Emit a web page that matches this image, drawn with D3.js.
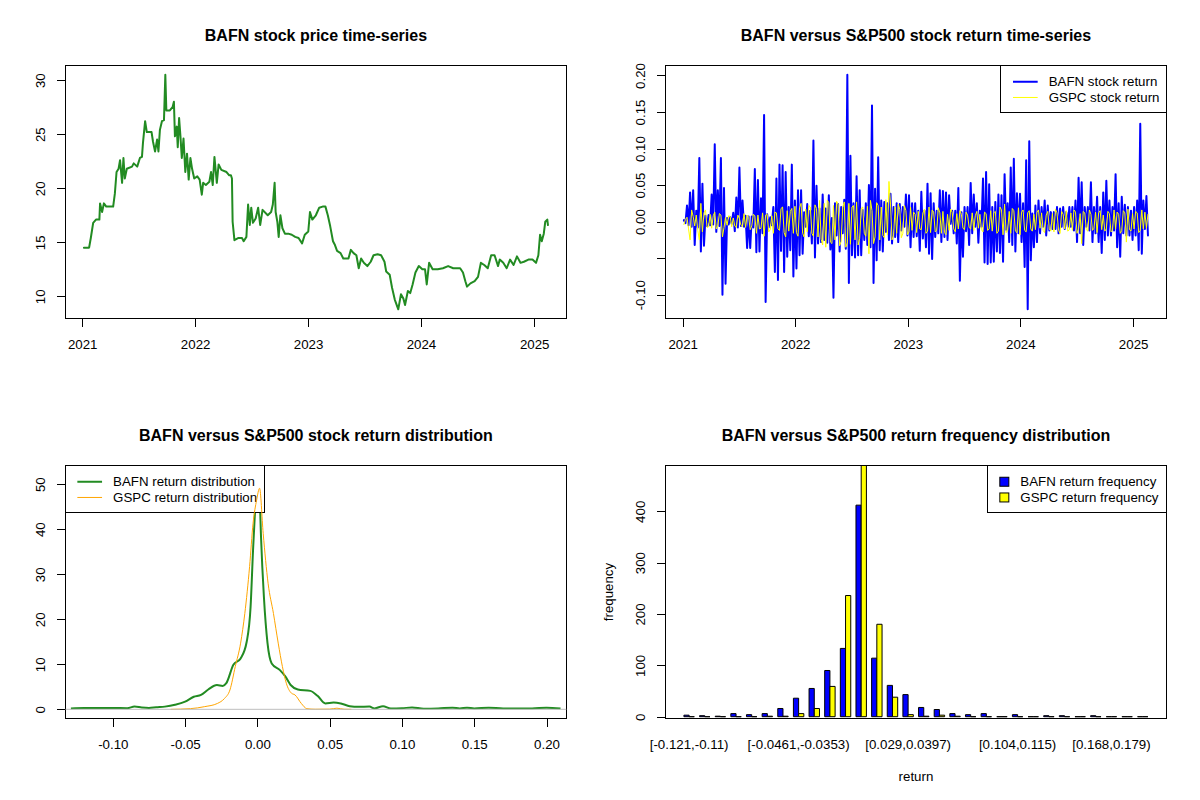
<!DOCTYPE html>
<html>
<head>
<meta charset="utf-8">
<script src="https://cdn.jsdelivr.net/npm/d3@7"></script>
<style>
  body { margin: 0; background: #fff; }
  svg { font-family: "Liberation Sans", Arial, Helvetica, sans-serif; }
</style>
</head>
<body>
<svg id="chart" width="1200" height="800"></svg>
<script>
// ---- price series (decimal year, close) ----
var priceYear = [
  2021.015, 2021.061, 2021.076, 2021.085, 2021.097, 2021.122, 2021.152, 2021.158, 2021.176, 2021.192,
  2021.213, 2021.274, 2021.289, 2021.304, 2021.322, 2021.335, 2021.353, 2021.365, 2021.377, 2021.395,
  2021.441, 2021.456, 2021.487, 2021.511, 2021.529, 2021.538, 2021.557, 2021.572, 2021.593, 2021.614,
  2021.627, 2021.645, 2021.663, 2021.675, 2021.688, 2021.706, 2021.724, 2021.736, 2021.745, 2021.776,
  2021.800, 2021.812, 2021.821, 2021.837, 2021.846, 2021.858, 2021.870, 2021.882, 2021.897, 2021.913,
  2021.928, 2021.943, 2021.958, 2021.973, 2021.992, 2022.019, 2022.040, 2022.059, 2022.071, 2022.095,
  2022.126, 2022.141, 2022.156, 2022.171, 2022.192, 2022.208, 2022.232, 2022.278, 2022.302, 2022.317,
  2022.326, 2022.332, 2022.348, 2022.384, 2022.415, 2022.430, 2022.454, 2022.469, 2022.484, 2022.497,
  2022.512, 2022.536, 2022.558, 2022.576, 2022.597, 2022.643, 2022.673, 2022.688, 2022.704, 2022.713,
  2022.728, 2022.740, 2022.755, 2022.773, 2022.795, 2022.825, 2022.856, 2022.886, 2022.916, 2022.947,
  2022.971, 2023.002, 2023.017, 2023.038, 2023.069, 2023.099, 2023.129, 2023.154, 2023.175, 2023.196,
  2023.221, 2023.236, 2023.257, 2023.288, 2023.312, 2023.358, 2023.379, 2023.403, 2023.428, 2023.449,
  2023.470, 2023.494, 2023.525, 2023.555, 2023.580, 2023.616, 2023.647, 2023.677, 2023.692, 2023.723,
  2023.744, 2023.768, 2023.799, 2023.823, 2023.844, 2023.859, 2023.884, 2023.905, 2023.926, 2023.951,
  2023.981, 2024.012, 2024.036, 2024.051, 2024.072, 2024.103, 2024.148, 2024.194, 2024.240, 2024.285,
  2024.346, 2024.371, 2024.392, 2024.407, 2024.437, 2024.474, 2024.504, 2024.529, 2024.559, 2024.590,
  2024.620, 2024.650, 2024.681, 2024.696, 2024.727, 2024.757, 2024.787, 2024.818, 2024.848, 2024.879,
  2024.909, 2024.949, 2024.985, 2025.016, 2025.037, 2025.052, 2025.067, 2025.085, 2025.098, 2025.116,
  2025.122
];
var priceValue = [
  14.5, 14.5, 15.4, 16.0, 16.8, 17.1, 17.1, 18.6, 17.8, 18.6,
  18.3, 18.3, 19.5, 21.5, 21.8, 22.6, 20.5, 22.8, 20.9, 21.8,
  22.0, 22.3, 22.0, 22.8, 22.9, 24.2, 26.2, 25.2, 25.2, 25.2,
  24.3, 23.4, 24.5, 23.4, 25.4, 26.2, 26.3, 30.5, 27.2, 27.2,
  27.5, 28.0, 24.8, 25.7, 23.8, 26.5, 24.8, 22.8, 24.6, 21.5,
  23.2, 20.8, 22.8, 21.8, 20.9, 21.1, 20.8, 19.4, 20.5, 20.3,
  20.6, 21.5, 20.3, 22.9, 20.5, 22.2, 21.7, 21.5, 21.2, 21.2,
  20.9, 16.9, 15.2, 15.4, 15.4, 15.1, 15.5, 18.5, 16.6, 18.2,
  16.8, 17.2, 18.2, 16.6, 18.0, 17.5, 17.8, 18.5, 20.5, 17.8,
  16.9, 15.5, 17.5, 16.3, 15.8, 15.8, 15.7, 15.5, 15.4, 14.9,
  15.7, 16.0, 17.8, 17.1, 17.5, 18.2, 18.3, 18.3, 17.5, 16.5,
  15.1, 14.8, 14.2, 14.0, 13.5, 13.5, 14.3, 14.0, 13.8, 12.6,
  13.5, 13.1, 12.8, 13.2, 13.8, 13.9, 13.8, 13.2, 12.3, 12.0,
  10.8, 9.7, 8.8, 10.2, 9.8, 9.2, 10.5, 10.3, 11.1, 12.2,
  12.8, 12.5, 12.5, 11.1, 13.1, 12.5, 12.5, 12.6, 12.8, 12.6,
  12.6, 12.2, 11.4, 10.9, 11.2, 11.4, 11.8, 13.1, 12.9, 12.6,
  13.8, 13.8, 12.8, 13.4, 13.1, 12.6, 13.4, 12.9, 13.7, 13.1,
  13.2, 13.4, 13.4, 13.1, 13.8, 15.7, 15.1, 15.8, 16.9, 17.1,
  16.6
];

// ---- returns, one value every 5 days from 2021-01-05, in percent ----
var returnStart = "2021-01-05";
var returnStepDays = 5;
var bafnReturnPct = [
  0.2,-0.2, 2.2,-0.5, 4.0,-0.7, 4.3,-3.2, 1.5,-0.8, 8.7,-4.1, 5.2,-3.3, 0.8,-0.6, 0.9,-0.5, 3.7,-0.4,
  10.6,-1.4, 4.3,-0.6, 8.7,-10.0, 4.6,-8.5, 0.5,-0.4, 0.6,-0.3, 1.2,-1.3, 3.3,-0.8, 7.4,-0.6, 2.9,-0.7,
  0.8,-3.6, 0.7,-3.6, 0.7,-0.8, 7.2,-4.2, 5.7,-4.1, 3.2,-1.6, 14.6,-11.0, 1.0,-0.8, 0.6,-0.5, 2.0,-6.9,
  5.9,-8.0, 7.8,-4.0, 7.7,-6.9, 6.8,-4.8, 2.0,-3.9, 7.8,-7.5, 2.9,-6.4, 4.3,-4.6, 4.3,-4.4, 1.3,-0.7,
  2.4,-2.0, 1.5,-3.0, 11.1,-4.9, 4.9,-3.0, 1.8,-2.8, 3.7,-2.5, 1.8,-2.9, 3.6,-3.8, 0.5,-10.4, 2.5,-1.9,
  2.4,-4.1, 2.0,-1.6, 3.0,-3.7, 20.1,-8.4, 9.0,-4.6, 2.5,-4.9, 6.2,-4.6, 4.3,-4.6, 1.6,-2.5, 2.5,-3.2,
  5.0,-3.5, 15.9,-8.4, 4.5,-5.3, 8.8,-3.9, 2.9,-4.1, 2.7,-1.4, 2.5,-2.5, 3.8,-3.0, 2.0,-2.1, 2.5,-2.8,
  2.4,-1.2, 2.0,-0.7, 3.7,-1.9, 3.6,-3.5, 2.5,-2.1, 2.5,-2.0, 1.5,-4.0, 4.1,-2.3, 1.5,-3.5, 5.2,-4.4,
  3.9,-5.1, 2.5,-2.1, 1.5,-1.6, 4.3,-2.8, 4.2,-2.1, 4.0,-2.5, 3.6,-0.3, 1.5,-1.6, 1.5,-3.0, 4.6,-8.1,
  1.3,-4.8, 2.0,-1.3, 2.0,-3.2, 5.3,-1.6, 3.7,-0.7, 2.5,-2.9, 1.5,-0.7, 5.9,-5.6, 6.8,-5.8, 5.1,-5.6,
  2.0,-5.5, 2.7,-4.1, 3.7,-4.3, 3.6,-5.5, 6.5,-1.1, 2.5,-2.8, 7.4,-3.2, 8.6,-4.1, 3.9,-1.6, 3.8,-2.8,
  2.5,-6.2, 8.4,-12.0, 11.0,-5.3, 1.1,-3.5, 2.2,-2.8, 2.9,-1.6, 2.0,-0.7, 2.9,-1.9, 2.2,-1.2, 1.3,-1.0,
  1.3,-1.0, 2.0,-1.6, 1.8,-0.7, 2.0,-1.0, 1.3,-0.7, 2.0,-0.7, 2.0,-1.2, 2.9,-2.8, 6.0,-1.6, 5.4,-3.2,
  2.0,-0.7, 2.0,-1.2, 5.4,-2.8, 2.0,-1.6, 3.4,-2.8, 2.0,-4.3, 4.0,-2.5, 5.6,-1.9, 2.9,-1.9, 2.0,-1.2,
  6.5,-3.5, 2.5,-4.8, 3.4,-1.6, 2.3,-1.9, 2.0,-1.9, 1.5,-2.5, 2.0,-1.9, 2.9,-3.9, 13.4,-4.4, 2.9,-1.0,
  3.5,-1.9
];
var gspcReturnPct = [
  -0.4,0.3, 0.6,-1.0, -2.5,1.6, 0.7,-0.6, 0.9,-1.2, -2.5,2.5, -1.4,1.2, 1.6,-0.8, -0.7,1.0, -0.9,0.8,
  1.3,-1.0, -0.6,1.1, 0.9,-2.1, -0.8,0.6, -0.5,0.8, 0.7,-0.7, 0.5,-0.6, -0.8,0.9, 0.4,-0.5, -0.7,1.1,
  -0.8,0.9, 0.6,-1.1, -0.6,1.0, 0.8,-1.6, 0.9,-1.0, -0.9,1.2, -2.0,0.9, 1.0,-1.4, -1.1,0.8, -1.6,1.3,
  1.2,-1.0, -1.2,1.8, 2.0,-1.5, -2.1,1.5, -1.3,1.4, 1.8,-1.6, 2.1,-1.5, -2.0,1.9, 2.5,-1.6, -2.1,1.7,
  -1.4,2.2, 2.0,-1.6, -2.0,2.3, 1.8,-2.1, 2.9,-2.4, -3.2,2.5, -3.5,2.9, 2.6,-2.8, -3.0,2.2, -2.5,2.8,
  2.4,-3.3, -2.7,1.9, 2.7,-3.5, -2.9,2.5, -3.1,2.0, 2.2,-2.5, 2.7,-3.2, -2.3,1.8, 2.0,-1.6, -2.0,2.1,
  -4.4,2.9, 1.5,-3.0, -2.1,2.6, 2.2,-2.5, 2.0,-1.9, -2.2,3.0, -1.8,5.5, 2.4,-2.5, -1.9,2.0, -1.6,2.4,
  1.7,-2.2, -1.6,2.2, 1.5,-1.8, -1.4,2.0, -1.2,1.3, 1.0,-1.5, 1.4,-1.0, -1.1,1.2, 1.7,-1.6, -1.3,2.0,
  -1.5,1.6, 1.3,-1.4, -1.2,1.9, 1.2,-1.6, 1.4,-1.5, -1.8,1.0, -1.2,1.7, 1.3,-1.0, -1.4,1.1, -1.0,1.5,
  1.0,-0.9, -1.1,1.3, 0.9,-0.8, -1.0,1.2, -1.2,0.8, 1.4,-0.9, 1.0,-1.1, -1.4,1.3, 1.1,-1.2, -1.0,1.5,
  -1.3,1.2, 1.4,-1.6, -1.3,2.0, 1.6,-1.8, 2.4,-1.5, -1.2,1.4, -1.6,1.8, 1.5,-1.3, -1.5,1.9, -1.8,1.3,
  1.6,-1.2, -1.4,1.2, 1.5,-1.0, -1.3,1.0, -1.1,1.3, 1.6,-0.9, 1.2,-1.2, -1.5,0.9, 1.4,-1.0, -1.3,1.1,
  -1.4,1.7, 1.2,-1.2, -1.6,1.4, 1.0,-1.0, 1.5,-1.3, -1.1,1.2, -1.2,1.6, 1.3,-1.6, -1.0,1.1, -3.0,1.4,
  1.2,-1.1, -1.3,1.6, 1.0,-1.2, -0.9,1.3, -1.5,1.2, 1.5,-1.1, 0.9,-1.3, -1.0,1.4, 1.1,-1.4, -1.2,1.6,
  -1.0,1.3, 1.0,-1.6, -1.2,1.5, 1.2,-2.8, 1.7,-1.1, -1.3,1.1, -1.0,1.4, 1.2,-1.5, -1.2,1.6, -1.0,1.3,
  -0.9,1.0
];

// ---- kernel densities ----
var bafnDensityX = [
  -0.129, -0.12, -0.11, -0.10, -0.09, -0.085, -0.08, -0.075, -0.07, -0.064,
  -0.057, -0.05, -0.044, -0.039, -0.034, -0.028, -0.024, -0.0215, -0.0166, -0.0116,
  -0.0074, -0.0047, -0.003, -0.0017, -0.0005, 0.0005, 0.0015, 0.0025, 0.0045, 0.007,
  0.0099, 0.0156, 0.0193, 0.023, 0.028, 0.0366, 0.0416, 0.047, 0.0527, 0.0577,
  0.0639, 0.07, 0.0775, 0.081, 0.0869, 0.0923, 0.10, 0.107, 0.115, 0.125,
  0.135, 0.14, 0.145, 0.15, 0.16, 0.17, 0.18, 0.19, 0.20, 0.2097
];
var bafnDensity = [
  0.2, 0.3, 0.3, 0.3, 0.25, 0.6, 0.4, 0.3, 0.45, 0.6,
  1.0, 1.7, 2.8, 3.2, 4.4, 5.4, 5.2, 5.8, 9.9, 11.3,
  15.0, 22.8, 35.4, 43.6, 50.5, 52.1, 48.0, 38.4, 25.0, 14.7,
  10.2, 8.7, 7.3, 5.4, 4.4, 4.1, 3.0, 1.3, 1.5, 1.3,
  0.7, 0.55, 0.6, 0.2, 0.7, 0.2, 0.25, 0.4, 0.15, 0.2,
  0.35, 0.2, 0.35, 0.2, 0.35, 0.2, 0.2, 0.2, 0.35, 0.2
];
var gspcDensityX = [
  -0.06, -0.0463, -0.0364, -0.0277, -0.0228, -0.019, -0.0153, -0.0116, -0.0087, -0.0054,
  -0.003, -0.0005, 0.0015, 0.004, 0.0074, 0.0111, 0.0144, 0.0173, 0.02, 0.0235,
  0.026, 0.0304, 0.0342, 0.04, 0.05, 0.055, 0.06, 0.065
];
var gspcDensity = [
  0.0, 0.15, 0.6, 1.3, 2.4, 4.3, 9.5, 14.7, 21.3, 31.7,
  41.3, 46.5, 49.1, 39.1, 28.0, 21.3, 14.7, 9.5, 5.8, 3.6,
  3.2, 1.3, 0.15, 0.02, 0.05, 0.25, 0.02, 0.0
];

// ---- histogram counts (30 bins) ----
var bafnFreq = [3, 2, 1, 6, 4, 6, 16, 36, 55, 90, 133, 412, 114, 61, 43, 18, 14, 6, 4, 6, 0, 4, 0, 2, 2, 0, 2, 0, 0, 0];
var gspcFreq = [0, 0, 0, 0, 0, 1, 1, 6, 16, 59, 236, 494, 180, 38, 4, 1, 3, 1, 0, 0, 0, 0, 0, 0, 0, 0, 0, 0, 0, 0];
var histLabelBins = [0, 7, 14, 21, 27];
var histLabels = ["[-0.121,-0.11)", "[-0.0461,-0.0353)", "[0.029,0.0397)", "[0.104,0.115)", "[0.168,0.179)"];

// ---- ticks ----
var yearTicks = ["2021-01-01", "2022-01-01", "2023-01-01", "2024-01-01", "2025-01-01"];
var yearLabels = ["2021", "2022", "2023", "2024", "2025"];
var priceTicks = [10, 15, 20, 25, 30];
var priceLabels = ["10", "15", "20", "25", "30"];
var returnTicks = [-0.10, -0.05, 0, 0.05, 0.10, 0.15, 0.20];
var returnLabels = ["-0.10", "", "0.00", "0.05", "0.10", "0.15", "0.20"];
var densityXTicks = [-0.10, -0.05, 0, 0.05, 0.10, 0.15, 0.20];
var densityXLabels = ["-0.10", "-0.05", "0.00", "0.05", "0.10", "0.15", "0.20"];
var densityYTicks = [0, 10, 20, 30, 40, 50];
var densityYLabels = ["0", "10", "20", "30", "40", "50"];
var freqTicks = [0, 100, 200, 300, 400];
var freqLabels = ["0", "100", "200", "300", "400"];

// ------------------------------------------------------------------
var svg = d3.select("#chart");
var LINE = 15.94;          // one margin line of the 2x2 layout
var AXIS_FONT = 13.3;
var clipCount = 0;

function panel(col, row) {
    var x0 = col * 600, y0 = row * 400;
    var p = {
        x0: x0, y0: y0,
        left: x0 + 4.1 * LINE, right: x0 + 600 - 2.1 * LINE,
        top: y0 + 4.1 * LINE, bottom: y0 + 400 - 5.1 * LINE
    };
    p.w = p.right - p.left;
    p.h = p.bottom - p.top;
    var id = "clip" + (clipCount++);
    svg.append("clipPath").attr("id", id).append("rect")
        .attr("x", p.left).attr("y", p.top).attr("width", p.w).attr("height", p.h);
    p.clip = "url(#" + id + ")";
    return p;
}

// R pads the data range by 4% on each side
function rExtend(ext) {
    var d = (ext[1] - ext[0]) * 0.04;
    return [ext[0] - d, ext[1] + d];
}
function rExtendTime(ext) {
    var a = +ext[0], b = +ext[1], d = (b - a) * 0.04;
    return [new Date(a - d), new Date(b + d)];
}
function fromDecimalYear(t) {
    var y = Math.floor(t);
    var s = Date.UTC(y, 0, 1), e = Date.UTC(y + 1, 0, 1);
    return new Date(s + (t - y) * (e - s));
}

function title(p, text) {
    svg.append("text")
        .attr("x", (p.left + p.right) / 2).attr("y", p.y0 + 40.7)
        .attr("text-anchor", "middle").attr("font-weight", "bold").attr("font-size", 16)
        .text(text);
}

function box(p) {
    svg.append("rect")
        .attr("x", p.left).attr("y", p.top).attr("width", p.w).attr("height", p.h)
        .attr("fill", "none").attr("stroke", "#000").attr("stroke-width", 1)
        .attr("shape-rendering", "crispEdges");
}

function bottomAxis(p, scale, ticks, labels) {
    var g = svg.append("g")
        .attr("transform", "translate(0," + p.bottom + ")")
        .call(d3.axisBottom(scale).tickValues(ticks)
            .tickFormat(function (d, i) { return labels[i]; })
            .tickSize(8).tickSizeOuter(0));
    g.select(".domain").remove();
    g.attr("font-size", AXIS_FONT).attr("font-family", null);
    g.selectAll(".tick line").attr("stroke", "#000").attr("shape-rendering", "crispEdges");
    g.selectAll(".tick text").attr("y", 30).attr("dy", null).attr("fill", "#000");
}

function leftAxis(p, scale, ticks, labels) {
    var g = svg.append("g")
        .attr("transform", "translate(" + p.left + ",0)")
        .call(d3.axisLeft(scale).tickValues(ticks)
            .tickFormat(function (d, i) { return labels[i]; })
            .tickSize(8).tickSizeOuter(0));
    g.select(".domain").remove();
    g.attr("font-size", AXIS_FONT).attr("font-family", null);
    g.selectAll(".tick line").attr("stroke", "#000").attr("shape-rendering", "crispEdges");
    g.selectAll(".tick text")
        .attr("transform", "rotate(-90)")
        .attr("x", 0).attr("y", -20).attr("dy", null)
        .attr("text-anchor", "middle").attr("fill", "#000");
}

// legend with line keys (lty = 1)
function lineLegend(p, side, items) {
    var g = svg.append("g").attr("font-size", AXIS_FONT);
    var bg = g.append("rect");
    var texts = items.map(function (it) { return g.append("text").text(it.label); });
    var maxW = d3.max(texts, function (t) { return t.node().getComputedTextLength(); });
    var w = 47.7 + maxW + 7, h = 47.4;
    var left = side === "right" ? p.right - w : p.left;
    bg.attr("x", left).attr("y", p.top).attr("width", w).attr("height", h)
        .attr("fill", "#fff").attr("stroke", "#000").attr("shape-rendering", "crispEdges");
    items.forEach(function (it, i) {
        var cy = p.top + 16.4 + i * 15.7;
        g.append("line").attr("x1", left + 12).attr("x2", left + 36.7)
            .attr("y1", cy).attr("y2", cy)
            .attr("stroke", it.color).attr("stroke-width", it.width);
        texts[i].attr("x", left + 47.7).attr("y", cy + 4.7);
    });
}

// legend with filled boxes
function fillLegend(p, items) {
    var g = svg.append("g").attr("font-size", AXIS_FONT);
    var bg = g.append("rect");
    var texts = items.map(function (it) { return g.append("text").text(it.label); });
    var maxW = d3.max(texts, function (t) { return t.node().getComputedTextLength(); });
    var w = 33 + maxW + 8, h = 47.4;
    var left = p.right - w;
    bg.attr("x", left).attr("y", p.top).attr("width", w).attr("height", h)
        .attr("fill", "#fff").attr("stroke", "#000").attr("shape-rendering", "crispEdges");
    items.forEach(function (it, i) {
        var cy = p.top + 16.4 + i * 15.7;
        g.append("rect").attr("x", left + 12.5).attr("y", cy - 4.5)
            .attr("width", 9).attr("height", 9)
            .attr("fill", it.color).attr("stroke", "#000");
        texts[i].attr("x", left + 33).attr("y", cy + 4.7);
    });
}

function drawLine(p, data, x, y, color, width) {
    svg.append("path")
        .datum(data)
        .attr("clip-path", p.clip)
        .attr("fill", "none").attr("stroke", color).attr("stroke-width", width)
        .attr("stroke-linejoin", "round").attr("stroke-linecap", "round")
        .attr("d", d3.line().x(function (d) { return x(d[0]); }).y(function (d) { return y(d[1]); }));
}

var yearTickDates = yearTicks.map(function (s) { return new Date(s + "T00:00:00Z"); });

// ---------- panel 1: price ----------
(function () {
    var p = panel(0, 0);
    var data = priceYear.map(function (t, i) { return [fromDecimalYear(t), priceValue[i]]; });
    var x = d3.scaleUtc().domain(rExtendTime(d3.extent(data, function (d) { return d[0]; })))
        .range([p.left, p.right]);
    var y = d3.scaleLinear().domain(rExtend(d3.extent(priceValue))).range([p.bottom, p.top]);
    title(p, "BAFN stock price time-series");
    drawLine(p, data, x, y, "#228B22", 2);
    box(p);
    bottomAxis(p, x, yearTickDates, yearLabels);
    leftAxis(p, y, priceTicks, priceLabels);
})();

// ---------- panel 2: returns ----------
var returnDates = bafnReturnPct.map(function (v, i) {
    return d3.utcDay.offset(new Date(returnStart + "T00:00:00Z"), i * returnStepDays);
});
var bafnReturn = bafnReturnPct.map(function (v) { return v / 100; });
var gspcReturn = gspcReturnPct.map(function (v) { return v / 100; });

(function () {
    var p = panel(1, 0);
    var x = d3.scaleUtc().domain(rExtendTime(d3.extent(returnDates))).range([p.left, p.right]);
    var y = d3.scaleLinear().domain(rExtend(d3.extent(bafnReturn.concat(gspcReturn))))
        .range([p.bottom, p.top]);
    title(p, "BAFN versus S&P500 stock return time-series");
    drawLine(p, returnDates.map(function (d, i) { return [d, bafnReturn[i]]; }), x, y, "#0000FF", 2);
    drawLine(p, returnDates.map(function (d, i) { return [d, gspcReturn[i]]; }), x, y, "#FFFF00", 1);
    box(p);
    bottomAxis(p, x, yearTickDates, yearLabels);
    leftAxis(p, y, returnTicks, returnLabels);
    lineLegend(p, "right", [
        { label: "BAFN stock return", color: "#0000FF", width: 2 },
        { label: "GSPC stock return", color: "#FFFF00", width: 1 }
    ]);
})();

// ---------- panel 3: density ----------
(function () {
    var p = panel(0, 1);
    var x = d3.scaleLinear().domain(rExtend(d3.extent(bafnReturn))).range([p.left, p.right]);
    var y = d3.scaleLinear().domain(rExtend([0, d3.max(bafnDensity)])).range([p.bottom, p.top]);
    title(p, "BAFN versus S&P500 stock return distribution");
    var curve = function (xs, ys) { return xs.map(function (v, i) { return [v, ys[i]]; }); };
    var line = d3.line().curve(d3.curveMonotoneX)
        .x(function (d) { return x(d[0]); }).y(function (d) { return y(d[1]); });
    svg.append("path").datum(curve(bafnDensityX, bafnDensity)).attr("clip-path", p.clip)
        .attr("fill", "none").attr("stroke", "#228B22").attr("stroke-width", 2)
        .attr("stroke-linejoin", "round").attr("d", line);
    box(p);
    bottomAxis(p, x, densityXTicks, densityXLabels);
    leftAxis(p, y, densityYTicks, densityYLabels);
    lineLegend(p, "left", [
        { label: "BAFN return distribution", color: "#228B22", width: 2 },
        { label: "GSPC return distribution", color: "#FFA500", width: 1 }
    ]);
    svg.append("path").datum(curve(gspcDensityX, gspcDensity)).attr("clip-path", p.clip)
        .attr("fill", "none").attr("stroke", "#FFA500").attr("stroke-width", 1)
        .attr("stroke-linejoin", "round").attr("d", line);
    svg.append("line").attr("clip-path", p.clip)
        .attr("x1", p.left).attr("x2", p.right).attr("y1", y(0)).attr("y2", y(0))
        .attr("stroke", "#BEBEBE").attr("stroke-width", 1);
})();

// ---------- panel 4: histogram ----------
(function () {
    var p = panel(1, 1);
    // barplot(beside = TRUE): two bars of width 1 per group, one unit of space before each group
    var x = d3.scaleLinear().domain(rExtend([1, 1 + 3 * bafnFreq.length - 1])).range([p.left, p.right]);
    var y = d3.scaleLinear().domain([-3.9, 489.5]).range([p.bottom, p.top]);
    title(p, "BAFN versus S&P500 return frequency distribution");
    var bars = [];
    bafnFreq.forEach(function (v, i) {
        bars.push({ x0: 1 + 3 * i, v: v, color: "#0000FF" });
        bars.push({ x0: 2 + 3 * i, v: gspcFreq[i], color: "#FFFF00" });
    });
    svg.append("g").attr("clip-path", p.clip)
        .selectAll("path").data(bars).enter().append("path")
        .attr("d", function (d) {
            var a = x(d.x0), b = x(d.x0 + 1), y0 = y(0), y1 = y(d.v);
            return "M" + a + "," + y0 + "H" + b + "V" + y1 + "H" + a + "Z";
        })
        .attr("fill", function (d) { return d.color; })
        .attr("stroke", "#000").attr("stroke-width", 1);
    box(p);
    leftAxis(p, y, freqTicks, freqLabels);
    svg.append("g").attr("font-size", AXIS_FONT)
        .selectAll("text").data(histLabelBins).enter().append("text")
        .attr("x", function (b) { return x(2 + 3 * b); })
        .attr("y", p.bottom + 30)
        .attr("text-anchor", "middle")
        .text(function (b, i) { return histLabels[i]; });
    svg.append("text").attr("font-size", AXIS_FONT)
        .attr("x", (p.left + p.right) / 2).attr("y", p.bottom + 62)
        .attr("text-anchor", "middle").text("return");
    svg.append("text").attr("font-size", AXIS_FONT)
        .attr("transform", "translate(" + (p.left - 52) + "," + ((p.top + p.bottom) / 2) + ") rotate(-90)")
        .attr("text-anchor", "middle").text("frequency");
    fillLegend(p, [
        { label: "BAFN return frequency", color: "#0000FF" },
        { label: "GSPC return frequency", color: "#FFFF00" }
    ]);
})();
</script>
</body>
</html>
